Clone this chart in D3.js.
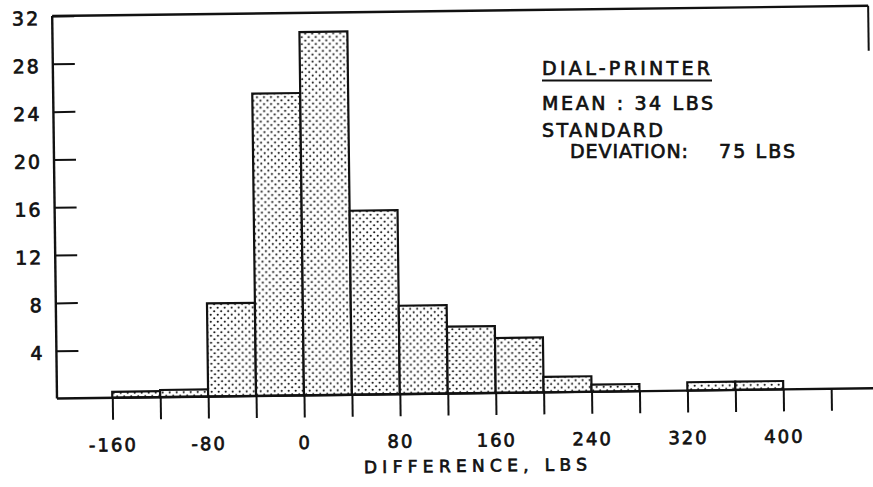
<!DOCTYPE html>
<html>
<head>
<meta charset="utf-8">
<script src="https://cdn.jsdelivr.net/npm/d3@7"></script>
<style>
  html, body { margin: 0; padding: 0; background: #fff; }
  svg { display: block; }
  text { font-family: "DejaVu Sans", sans-serif; fill: #111; stroke: #111; stroke-width: 0.7px; }
</style>
</head>
<body>
<svg id="chart" width="873" height="487"></svg>
<script>
// ---- data ----
const binStarts = [-160, -120, -80, -40, 0, 40, 80, 120, 160, 200, 240, 280, 320, 360, 400, 440];
const binWidth = 40;
const percents = [0.5, 0.6, 7.8, 25.3, 30.4, 15.4, 7.4, 5.6, 4.6, 1.3, 0.6, 0, 0.7, 0.7, 0, 0];
const yTickValues = [4, 8, 12, 16, 20, 24, 28, 32];
const xTickValues = [-160, -120, -80, -40, 0, 40, 80, 120, 160, 200, 240, 280, 320, 360, 400, 440];
const xLabelValues = [-160, -80, 0, 80, 160, 240, 320, 400];
const xTitle = "DIFFERENCE, LBS";
const noteTitle = "DIAL-PRINTER";
const noteLines = ["MEAN : 34 LBS", "STANDARD", "DEVIATION:", "75 LBS"];

// ---- layout ----
const svg = d3.select("#chart");
const ox = 57, oy = 398.5;
const x = d3.scaleLinear().domain([-160, 400]).range([112.3, 783.3]);
const y = d3.scaleLinear().domain([0, 32]).range([oy, 16]);

const defs = svg.append("defs");
const pat = defs.append("pattern").attr("id", "dots")
  .attr("patternUnits", "userSpaceOnUse").attr("width", 7).attr("height", 7);
pat.append("rect").attr("width", 7).attr("height", 7).attr("fill", "#fff");
pat.append("circle").attr("cx", 1.75).attr("cy", 1.75).attr("r", 1.05).attr("fill", "#111");
pat.append("circle").attr("cx", 5.25).attr("cy", 5.25).attr("r", 1.05).attr("fill", "#111");

// whole plot slightly rotated like the scanned original
const g = svg.append("g").attr("transform", `rotate(-0.72, ${ox}, ${oy})`);

// bars
g.selectAll("rect.bar")
  .data(binStarts.map((s, i) => ({ s, v: percents[i] })).filter(d => d.v > 0))
  .join("rect").attr("class", "bar")
  .attr("x", d => x(d.s))
  .attr("width", d => x(d.s + binWidth) - x(d.s))
  .attr("y", d => y(d.v))
  .attr("height", d => y(0) - y(d.v))
  .attr("fill", "url(#dots)")
  .attr("stroke", "#111").attr("stroke-width", 2.2);

// frame lines
const xRight = ox + 816;
g.append("line").attr("x1", ox).attr("x2", ox).attr("y1", y(32)).attr("y2", y(0))
  .attr("stroke", "#111").attr("stroke-width", 2.4);
g.append("line").attr("x1", ox).attr("x2", xRight + 10).attr("y1", y(0)).attr("y2", y(0))
  .attr("stroke", "#111").attr("stroke-width", 2.4);
g.append("line").attr("x1", ox).attr("x2", xRight).attr("y1", y(32)).attr("y2", y(32))
  .attr("stroke", "#111").attr("stroke-width", 2.4);
g.append("line").attr("x1", xRight).attr("x2", xRight).attr("y1", y(32)).attr("y2", y(32) + 45)
  .attr("stroke", "#111").attr("stroke-width", 2);

// left axis (ticks point inward)
const yAxis = d3.axisLeft(y).tickValues(yTickValues).tickSize(-22).tickPadding(12)
  .tickFormat(d3.format("d"));
const ya = g.append("g").attr("transform", `translate(${ox},0)`).call(yAxis);
ya.select(".domain").remove();
ya.selectAll("line").attr("stroke", "#111").attr("stroke-width", 2);
ya.selectAll("text").attr("font-size", 19).attr("dy", "0.45em")
  .attr("letter-spacing", 2).attr("font-family", "DejaVu Sans");

// bottom axis (ticks point down)
const xAxis = d3.axisBottom(x).tickValues(xTickValues).tickSize(22)
  .tickFormat(d => xLabelValues.includes(d) ? String(d).replace("\u2212", "-") : "");
const xa = g.append("g").attr("transform", `translate(0,${oy})`).call(xAxis);
xa.select(".domain").remove();
xa.selectAll("line").attr("stroke", "#111").attr("stroke-width", 2);
xa.selectAll("text").attr("font-size", 18).attr("dy", null).attr("y", 53.5)
  .attr("letter-spacing", 2).attr("font-family", "DejaVu Sans");

// axis title
g.append("text").attr("x", 363).attr("y", 477).attr("font-size", 17)
  .attr("textLength", 223).attr("lengthAdjust", "spacing").text(xTitle);

// annotation
const n = svg.append("g");
n.append("text").attr("x", 542).attr("y", 75).attr("font-size", 19)
  .attr("textLength", 168).attr("lengthAdjust", "spacing").text(noteTitle);
n.append("line").attr("x1", 542).attr("x2", 712).attr("y1", 80.5).attr("y2", 80.5)
  .attr("stroke", "#111").attr("stroke-width", 2.2);
n.append("text").attr("x", 542).attr("y", 110).attr("font-size", 19)
  .attr("textLength", 171).attr("lengthAdjust", "spacing").text(noteLines[0]);
n.append("text").attr("x", 542).attr("y", 136.7).attr("font-size", 19)
  .attr("textLength", 121).attr("lengthAdjust", "spacing").text(noteLines[1]);
n.append("text").attr("x", 570).attr("y", 158.3).attr("font-size", 19)
  .attr("textLength", 118).attr("lengthAdjust", "spacing").text(noteLines[2]);
n.append("text").attr("x", 719).attr("y", 158.3).attr("font-size", 19)
  .attr("textLength", 76).attr("lengthAdjust", "spacing").text(noteLines[3]);
</script>
</body>
</html>
